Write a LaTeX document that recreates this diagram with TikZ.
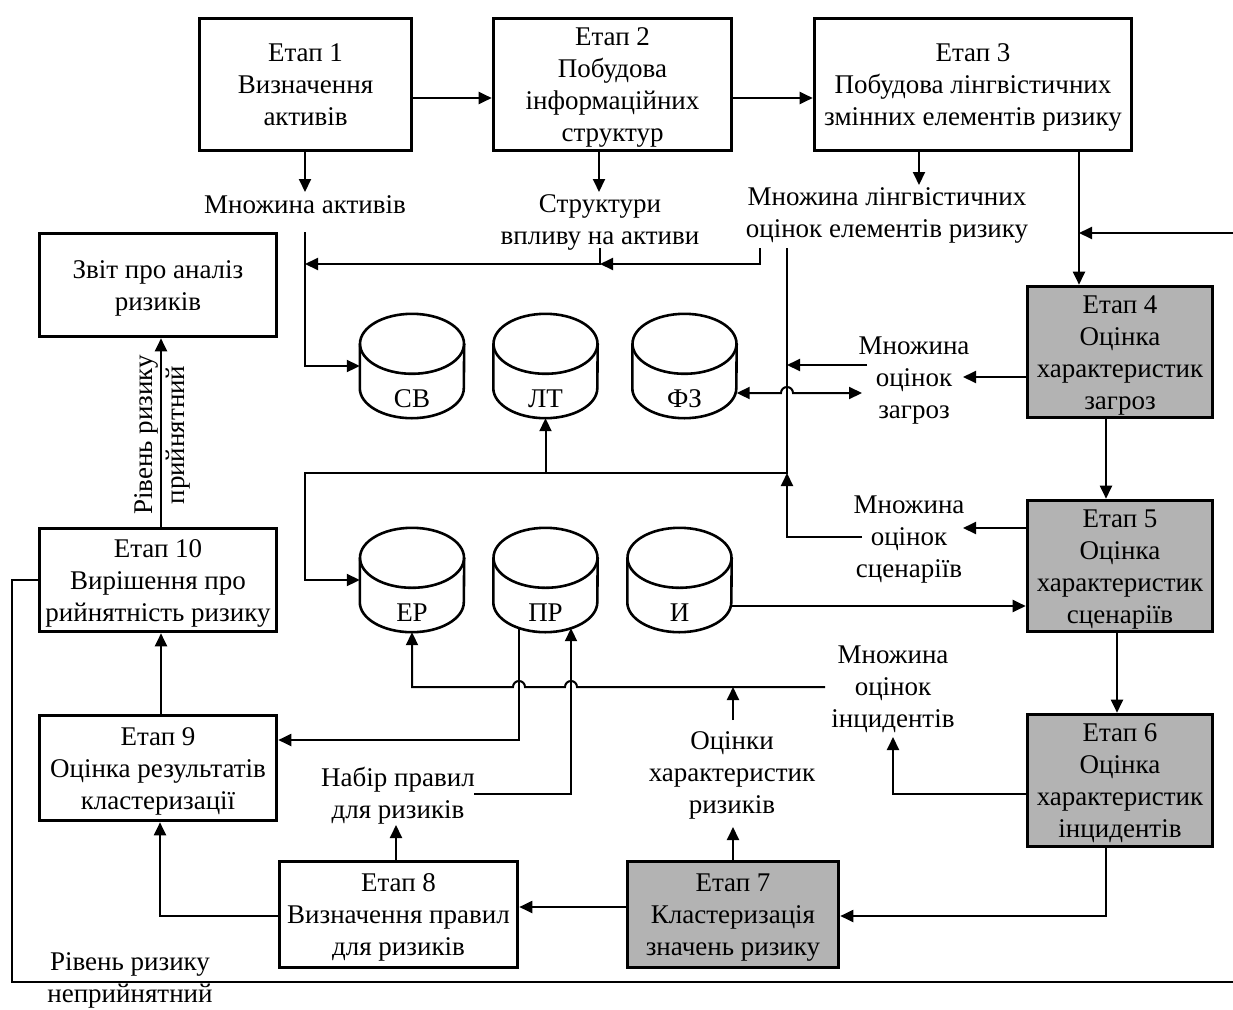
\documentclass[tikz,border=0pt]{standalone}
\usepackage{fontspec}
\setmainfont{Liberation Serif}
\usetikzlibrary{arrows.meta,calc}
\definecolor{boxgray}{RGB}{179,179,179}
\newcommand{\dbcyl}[4]{%
  \node[minimum width=104pt, minimum height=104pt, inner sep=0pt] (#1) at (#2,#3) {};
  \draw[cylline] ($(#1.north west)+(0,30)$) -- ($(#1.south west)+(0,-30)$)
     arc[start angle=180, end angle=360, x radius=52pt, y radius=30pt]
     -- ($(#1.north east)+(0,30)$);
  \draw[cylline] ($(#1.north)+(0,30)$) ellipse[x radius=52pt, y radius=30pt];
  \node[lbl, anchor=base] (#1t) at ($(#1.center)+(0,41)$) {#4};
}
\begin{document}
\begin{tikzpicture}[x=1pt,y=-1pt,
  every node/.append style={font=\fontsize{27}{32}\selectfont, text=black},
  stage/.style={draw, line width=3.6pt, align=center, inner sep=0pt, text depth=6pt},
  two/.style={text height=56pt},
  three/.style={text height=88pt},
  four/.style={text height=120pt},
  grey/.style={fill=boxgray},
  lbl/.style={align=center, inner sep=0pt},
  conn/.style={line width=2pt},
  arr/.style={conn, -{Triangle[length=13pt,width=12pt]}},
  dbl/.style={conn, {Triangle[length=13pt,width=12pt]}-{Triangle[length=13pt,width=12pt]}},
  cylline/.style={line width=2.6pt},
]
\useasboundingbox (0,0) rectangle (1233,1009);

% ---- stage boxes
\node[stage, three, minimum width=212pt, minimum height=132pt] (e1) at (305.5,84.5) {Етап 1\\Визначення\\активів};
\node[stage, four, minimum width=238pt, minimum height=132pt] (e2) at (612.5,84.5) {Етап 2\\Побудова\\інформаційних\\структур};
\node[stage, three, minimum width=317pt, minimum height=132pt] (e3) at (973,84.5) {Етап 3\\Побудова лінгвістичних\\змінних елементів ризику};
\node[stage, two, minimum width=237pt, minimum height=103pt] (rep) at (158,285) {Звіт про аналіз\\ризиків};
\node[stage, three, minimum width=237pt, minimum height=103pt] (e10) at (158,580) {Етап 10\\Вирішення про\\рийнятність ризику};
\node[stage, three, minimum width=237pt, minimum height=105pt] (e9) at (158,768) {Етап 9\\Оцінка результатів\\кластеризації};
\node[stage, three, minimum width=238pt, minimum height=106pt] (e8) at (398.5,914.5) {Етап 8\\Визначення правил\\для ризиків};
\node[stage, three, grey, minimum width=211pt, minimum height=106pt] (e7) at (733,914.5) {Етап 7\\Кластеризація\\значень ризику};
\node[stage, four, grey, minimum width=185pt, minimum height=131pt] (e4) at (1120,352) {Етап 4\\Оцінка\\характеристик\\загроз};
\node[stage, four, grey, minimum width=185pt, minimum height=131pt] (e5) at (1120,566) {Етап 5\\Оцінка\\характеристик\\сценаріїв};
\node[stage, four, grey, minimum width=185pt, minimum height=132pt] (e6) at (1120,780.5) {Етап 6\\Оцінка\\характеристик\\інцидентів};

% ---- databases
\dbcyl{sv}{412}{366}{СВ}
\dbcyl{lt}{545.5}{366}{ЛТ}
\dbcyl{fz}{684.5}{366}{ФЗ}
\dbcyl{er}{412}{580}{ЕР}
\dbcyl{pr}{545.5}{580}{ПР}
\dbcyl{ii}{679.5}{580}{И}

% ---- labels (anchored at the baseline of their last line)
\node[lbl, anchor=base] (L1) at (305,213) {Множина активів};
\node[lbl, anchor=base] (L2) at (600,244) {Структури\\впливу на активи};
\node[lbl, anchor=base] (L3) at (887,237) {Множина лінгвістичних\\оцінок елементів ризику};
\node[lbl, anchor=base] (L4) at (914,418) {Множина\\оцінок\\загроз};
\node[lbl, anchor=base] (L5) at (909,577) {Множина\\оцінок\\сценаріїв};
\node[lbl, anchor=base] (L6) at (893,727) {Множина\\оцінок\\інцидентів};
\node[lbl, anchor=base] (L7) at (732,813) {Оцінки\\характеристик\\ризиків};
\node[lbl, anchor=base] (L8) at (398,818) {Набір правил\\для ризиків};
\node[lbl, anchor=base] (L9) at (130,1002) {Рівень ризику\\неприйнятний};
\node[lbl, anchor=base, rotate=90] (L10) at (184,435) {Рівень ризику\\прийнятний};

% ---- helper coordinates
\coordinate (m1) at (305,192);
\coordinate (m2) at (599,192);
\coordinate (m3) at (919,185);
\coordinate (a1b) at (305,232);
\coordinate (j1) at (305,264);
\coordinate (s2b) at (600,248);
\coordinate (j2) at (600,264);
\coordinate (l3b) at (760,248);
\coordinate (l3c) at (787,248);
\coordinate (k1) at (305,473);
\coordinate (j3) at (787,473);
\coordinate (j5) at (787,365);
\coordinate (l4a) at (867,365);
\coordinate (l4b) at (862,393);
\coordinate (l4c) at (963,377);
\coordinate (l5a) at (862,537);
\coordinate (l5c) at (963,528);
\coordinate (l6a) at (825,687);
\coordinate (l6b) at (893,737);
\coordinate (l7d) at (733,827);
\coordinate (l7u) at (733,720);
\coordinate (l7j) at (733,687);
\coordinate (l8r) at (474,794);
\coordinate (l8d) at (396,825);
\coordinate (fb) at (1079,233);

% ---- connectors: top row
\draw[arr] (e1.east |- 0,98) -- (e2.west |- 0,98);
\draw[arr] (e2.east |- 0,98) -- (e3.west |- 0,98);
\draw[arr] (e1.south -| m1) -- (m1);
\draw[arr] (e2.south -| m2) -- (m2);
\draw[arr] (e3.south -| m3) -- (m3);
\draw[arr] (e3.south -| fb) -- (e4.north -| fb);
\draw[arr] (e10.west) -| (12,982) -| (1260,233) -- (fb);

% ---- to databases
\draw[arr] (a1b) |- (sv.west);
\draw[arr] (l3b) |- (j2);
\draw[arr] (s2b) |- (j1);
\draw[arr] (l3c) |- (k1) |- (er.west);
\draw[arr] (lt.south |- k1) -- (lt.south);
\draw[arr] (l4a) -- (j5);
\draw[dbl] ($(fz.east)+(0,27)$) -- (781,393) arc[start angle=180, end angle=0, radius=6pt] -- (l4b);
\draw[arr] (l5a) -| (j3);

% ---- right column
\draw[arr] (e4.west |- l4c) -- (l4c);
\draw[arr] (e4.south -| 1106,0) -- (e5.north -| 1106,0);
\draw[arr] (e5.west |- l5c) -- (l5c);
\draw[arr] (ii.east |- 0,606) -- (e5.west |- 0,606);
\draw[arr] (e5.south -| 1117,0) -- (e6.north -| 1117,0);
\draw[arr] (e6.west |- 0,794) -| (l6b);
\draw[arr] (e6.south -| 1106,0) |- (e7.east |- 0,916);

% ---- lower middle
\draw[arr] (l6a) -- (577,687) arc[start angle=0, end angle=180, radius=6pt]
   -- (525,687) arc[start angle=0, end angle=180, radius=6pt]
   -- (er.south |- l6a) -- (er.south);
\draw[arr] (e7.north) -- (l7d);
\draw[arr] (l7u) -- (l7j);
\draw[arr] ($(pr.south)+(-26.5,-4)$) |- (e9.east |- 0,740);
\draw[arr] (l8r) -| ($(pr.south)+(25.5,-4)$);
\draw[arr] (e7.west |- 0,907) -- (e8.east |- 0,907);
\draw[arr] (e8.north -| l8d) -- (l8d);
\draw[arr] (e8.west |- 0,916) -| (e9.south -| 160,0);
\draw[arr] (e9.north -| 161,0) -- (e10.south -| 161,0);
\draw[arr] (e10.north -| 161,0) -- (rep.south -| 161,0);
\end{tikzpicture}
\end{document}
